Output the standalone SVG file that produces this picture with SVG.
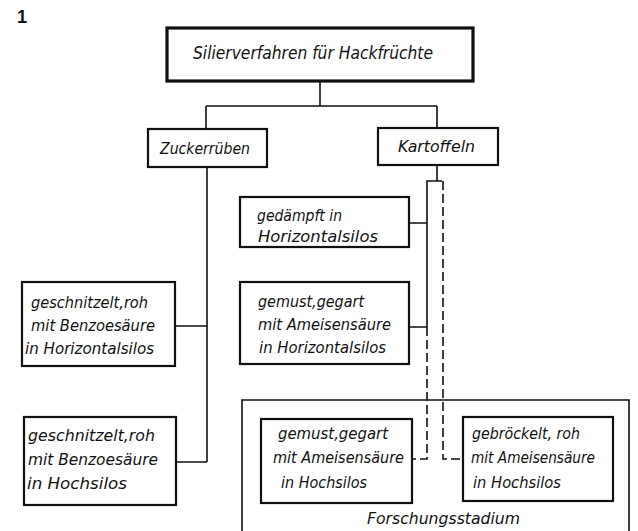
<svg xmlns="http://www.w3.org/2000/svg" width="638" height="531" viewBox="0 0 638 531">
<style>
.bx{fill:#fff;stroke:#111;stroke-width:2.2}
.top{fill:#fff;stroke:#111;stroke-width:3.2}
.ln{fill:none;stroke:#111;stroke-width:1.6}
.ds{fill:none;stroke:#111;stroke-width:1.6;stroke-dasharray:9 4}
text{font-family:"DejaVu Sans Condensed","DejaVu Sans","Liberation Sans",sans-serif;font-style:oblique;font-size:16px;fill:#111}
.big{font-size:18px}
.num{font-family:"Liberation Sans",sans-serif;font-style:normal;font-weight:bold;font-size:18px}
</style>
<rect width="638" height="531" fill="#fff"/>
<text class="num" x="17" y="23">1</text>
<g id="connectors">
<path class="ln" d="M320,80V106M206,106H437M206,106V129M437,106V128"/>
<path class="ln" d="M207,167V462M175,326H207M176,462H207"/>
<path class="ln" d="M437,165V181M427,327V181H442M409,223H427M409,327H427"/>
<path class="ds" d="M427,327V459H412"/>
<path class="ds" d="M443,181V459H463"/>
</g>
<g id="n-root"><rect class="top" x="167" y="28" width="306" height="53"/><text class="big" x="193" y="59" textLength="240" lengthAdjust="spacingAndGlyphs">Silierverfahren für Hackfrüchte</text></g>
<g id="n-zucker"><rect class="bx" x="148" y="129" width="119" height="38"/><text x="160" y="154" textLength="90" lengthAdjust="spacingAndGlyphs">Zuckerrüben</text></g>
<g id="n-kartoffeln"><rect class="bx" x="378" y="128" width="120" height="37"/><text x="398" y="152" textLength="77" lengthAdjust="spacingAndGlyphs">Kartoffeln</text></g>
<g id="n-z1"><rect class="bx" x="22" y="282" width="153" height="84"/>
<text x="31" y="308" textLength="117" lengthAdjust="spacingAndGlyphs">geschnitzelt,roh</text>
<text x="31" y="331" textLength="124" lengthAdjust="spacingAndGlyphs">mit Benzoesäure</text>
<text x="25" y="354" textLength="129" lengthAdjust="spacingAndGlyphs">in Horizontalsilos</text></g>
<g id="n-z2"><rect class="bx" x="24" y="417" width="152" height="88"/>
<text x="28" y="441" textLength="127" lengthAdjust="spacingAndGlyphs">geschnitzelt,roh</text>
<text x="28" y="465" textLength="130" lengthAdjust="spacingAndGlyphs">mit Benzoesäure</text>
<text x="27" y="489" textLength="100" lengthAdjust="spacingAndGlyphs">in Hochsilos</text></g>
<g id="n-k1"><rect class="bx" x="240" y="197" width="169" height="50"/>
<text x="257" y="221" textLength="85" lengthAdjust="spacingAndGlyphs">gedämpft in</text>
<text x="258" y="242" textLength="120" lengthAdjust="spacingAndGlyphs">Horizontalsilos</text></g>
<g id="n-k2"><rect class="bx" x="240" y="282" width="169" height="82"/>
<text x="258" y="307" textLength="106" lengthAdjust="spacingAndGlyphs">gemust,gegart</text>
<text x="258" y="330" textLength="133" lengthAdjust="spacingAndGlyphs">mit Ameisensäure</text>
<text x="259" y="353" textLength="127" lengthAdjust="spacingAndGlyphs">in Horizontalsilos</text></g>
<g id="n-forschung"><path class="ln" d="M242,531V400H629V531"/>
<text x="367" y="524" textLength="153" lengthAdjust="spacingAndGlyphs">Forschungsstadium</text></g>
<g id="n-k3"><rect class="bx" x="261" y="419" width="151" height="84"/>
<text x="278" y="439" textLength="110" lengthAdjust="spacingAndGlyphs">gemust,gegart</text>
<text x="273" y="463" textLength="131" lengthAdjust="spacingAndGlyphs">mit Ameisensäure</text>
<text x="281" y="488" textLength="86" lengthAdjust="spacingAndGlyphs">in Hochsilos</text></g>
<g id="n-k4"><rect class="bx" x="463" y="417" width="150" height="84"/>
<text x="472" y="439" textLength="108" lengthAdjust="spacingAndGlyphs">gebröckelt, roh</text>
<text x="471" y="463" textLength="124" lengthAdjust="spacingAndGlyphs">mit Ameisensäure</text>
<text x="473" y="488" textLength="88" lengthAdjust="spacingAndGlyphs">in Hochsilos</text></g>
</svg>
